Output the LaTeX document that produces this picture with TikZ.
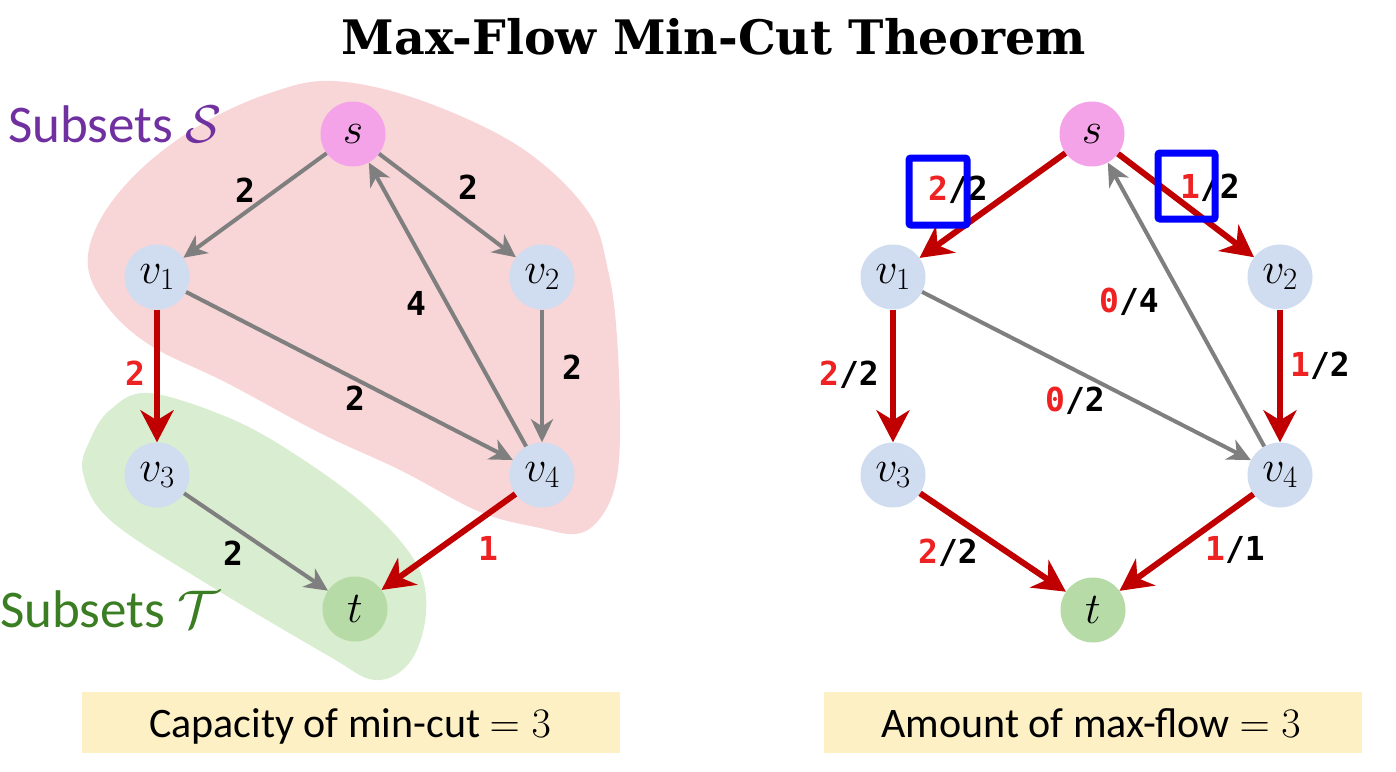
\RequirePackage{fix-cm}
\documentclass[tikz,border=0pt]{standalone}
\usepackage{fontspec}
\usetikzlibrary{arrows.meta}
\newfontfamily\titlefont{DejaVu Serif}
\newfontfamily\sansfont{Carlito}
\newfontfamily\lblfont{DejaVu Sans Mono}
\definecolor{pinkblob}{HTML}{F8D5D7}
\definecolor{greenblob}{HTML}{D9EDD1}
\definecolor{snode}{HTML}{F4A3E8}
\definecolor{vnode}{HTML}{D0DCF0}
\definecolor{tnode}{HTML}{B6DBA7}
\definecolor{edgegray}{HTML}{7F7F7F}
\definecolor{edgered}{HTML}{C00000}
\definecolor{lblred}{HTML}{EE2222}
\definecolor{purp}{HTML}{7030A0}
\definecolor{grn}{HTML}{3B7D23}
\definecolor{boxyellow}{HTML}{FDF0C4}
\tikzset{
  vtx/.style={circle, minimum size=65pt, inner sep=0pt, font=\fontsize{44}{44}\selectfont},
  gedge/.style={draw=edgegray, line width=4pt, -{Stealth[length=23pt,width=22pt,inset=7pt]}},
  redge/.style={draw=edgered, line width=6pt, -{Stealth[length=32pt,width=33pt,inset=10pt]}},
  lbl/.style={inner sep=0pt, font=\lblfont\bfseries\fontsize{33}{33}\selectfont},
  hl/.style={draw=blue, line width=7pt, rounded corners=2pt},
  resbox/.style={fill=boxyellow, minimum width=538pt, minimum height=61pt, inner sep=0pt},
  restext/.style={anchor=base, inner sep=0pt, font=\sansfont\fontsize{42}{42}\selectfont},
}
\newcommand{\rd}[1]{\textcolor{lblred}{#1}}
\begin{document}
\begin{tikzpicture}[x=1pt,y=-1pt]
\useasboundingbox (0,0) rectangle (1396,771);
% title
\node[anchor=base, inner sep=0pt, font=\titlefont\bfseries\fontsize{47.5}{47.5}\selectfont] (title) at (714,54) {Max-Flow Min-Cut Theorem};
% blobs
\fill[pinkblob] plot[smooth cycle, tension=0.6] coordinates {
 (333,81) (420,100) (520,147) (587,210) (608,270) (617,337) (620,437) (614,490) (597,522) (575,534)
 (540,528) (480,512) (400,470) (320,433) (227,383) (153,347) (110,310) (88,267) (100,220) (140,170) (200,125) (270,93)};
\fill[greenblob] plot[smooth cycle, tension=0.6] coordinates {
 (148,393) (227,417) (293,453) (367,507) (416,563) (426,613) (410,662) (375,680) (327,655) (204,582) (110,520) (83,473) (90,440) (110,410)};
% set labels
\node[anchor=base west, inner sep=0pt, text=purp, font=\sansfont\fontsize{53}{53}\selectfont] (Slab) at (8,142) {Subsets $\mathcal{S}$};
\node[anchor=base west, inner sep=0pt, text=grn, font=\sansfont\fontsize{53}{53}\selectfont] (Tlab) at (0,627) {Subsets $\mathcal{T}$};
% left graph
\node[vtx, fill=snode] (s) at (353,134) {$s$};
\node[vtx, fill=vnode] (v1) at (157,277) {$v_1$};
\node[vtx, fill=vnode] (v2) at (542,277) {$v_2$};
\node[vtx, fill=vnode] (v3) at (157,475) {$v_3$};
\node[vtx, fill=vnode] (v4) at (542,475) {$v_4$};
\node[vtx, fill=tnode] (t) at (355,609) {$t$};
\draw[gedge] (s) -- (v1);
\draw[gedge] (s) -- (v2);
\draw[gedge] (v4) -- (s);
\draw[gedge] (v1) -- (v4);
\draw[gedge] (v2) -- (v4);
\draw[gedge] (v3) -- (t);
\draw[redge] (v1) -- (v3);
\draw[redge] (v4) -- (t);
\node[lbl] (l1) at (245,190) {2};
\node[lbl] (l2) at (468,187) {2};
\node[lbl] (l3) at (416,303) {4};
\node[lbl, text=lblred] (l4) at (135,373) {2};
\node[lbl] (l5) at (355,398) {2};
\node[lbl] (l6) at (572,367) {2};
\node[lbl] (l7) at (233,553) {2};
\node[lbl, text=lblred] (l8) at (488,548) {1};
% right graph
\node[vtx, fill=snode] (rs) at (1092,134) {$s$};
\node[vtx, fill=vnode] (r1) at (893,277) {$v_1$};
\node[vtx, fill=vnode] (r2) at (1280,277) {$v_2$};
\node[vtx, fill=vnode] (r3) at (893,475) {$v_3$};
\node[vtx, fill=vnode] (r4) at (1280,475) {$v_4$};
\node[vtx, fill=tnode] (rt) at (1093,610) {$t$};
\draw[gedge] (r4) -- (rs);
\draw[gedge] (r1) -- (r4);
\draw[redge] (rs) -- (r1);
\draw[redge] (rs) -- (r2);
\draw[redge] (r1) -- (r3);
\draw[redge] (r2) -- (r4);
\draw[redge] (r3) -- (rt);
\draw[redge] (r4) -- (rt);
\node[lbl] (m1) at (958,190) {\rd{2}/2};
\node[lbl] (m2) at (1210,188) {\rd{1}/2};
\node[lbl] (m3) at (1129,302) {\rd{0}/4};
\node[lbl] (m4) at (849,375) {\rd{2}/2};
\node[lbl] (m5) at (1320,366) {\rd{1}/2};
\node[lbl] (m6) at (1075,401) {\rd{0}/2};
\node[lbl] (m7) at (948,553) {\rd{2}/2};
\node[lbl] (m8) at (1235,550) {\rd{1}/1};
\draw[hl] (909,158) rectangle (967,225);
\draw[hl] (1158,153) rectangle (1215,219);
% result boxes
\node[resbox] (lbox) at (351,722.5) {};
\node[resbox] (rbox) at (1093,722.5) {};
\node[restext] (ltext) at (350,737) {Capacity of min-cut $=3$};
\node[restext] (rtext) at (1091,737) {Amount of max-flow $=3$};
\end{tikzpicture}
\end{document}
